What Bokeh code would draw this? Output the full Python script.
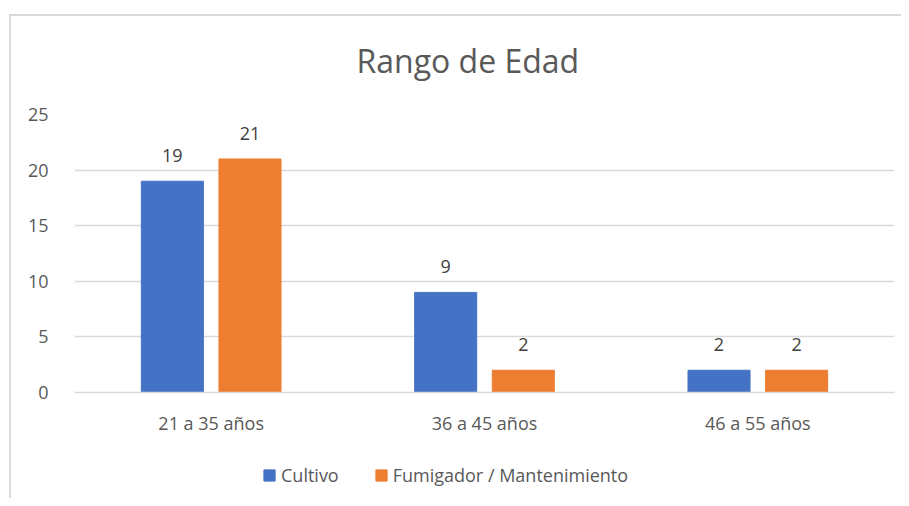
from bokeh.plotting import figure
from bokeh.layouts import column
from bokeh.models import (ColumnDataSource, FactorRange, Range1d, FixedTicker, LabelSet,
                          Legend, LegendItem, Title)
from bokeh.core.properties import value
from bokeh.transform import dodge
from bokeh.embed import file_html
from bokeh.resources import INLINE

categories = ["21 a 35 años", "36 a 45 años", "46 a 55 años"]
cultivo = [19, 9, 2]
fumigador = [21, 2, 2]
series_names = ["Cultivo", "Fumigador / Mantenimiento"]
y_ticks = [0, 5, 10, 15, 20, 25]

BLUE = "#4472C4"
ORANGE = "#ED7D31"
GRID = "#D9D9D9"
TXT = "#595959"
FONT = "Open Sans"

src = ColumnDataSource(dict(cat=categories, c=cultivo, f=fumigador,
                            cl=[str(v) for v in cultivo], fl=[str(v) for v in fumigador]))

p = figure(width=901, height=450, x_range=FactorRange(*categories, range_padding=0),
           y_range=Range1d(0, 25), output_backend="svg", toolbar_location=None,
           min_border_left=74, min_border_right=7, min_border_top=114, min_border_bottom=58)
p.outline_line_color = None
p.background_fill_color = "white"
p.border_fill_alpha = 0

r1 = p.vbar(x=dodge("cat", -0.142, range=p.x_range), top="c", width=0.227, source=src,
            fill_color=BLUE, line_color=BLUE)
r2 = p.vbar(x=dodge("cat", 0.142, range=p.x_range), top="f", width=0.227, source=src,
            fill_color=ORANGE, line_color=ORANGE)

for col, lab, off in (("c", "cl", -0.142), ("f", "fl", 0.142)):
    p.add_layout(LabelSet(x=dodge("cat", off, range=p.x_range), y=col, text=lab, source=src,
                          text_align="center", text_baseline="alphabetic", y_offset=19,
                          text_font=value(FONT), text_font_size="18px", text_color="#404040"))

p.title = Title(text="Rango de Edad", align="left", offset=282, text_font=FONT,
                text_font_size="32px", text_font_style="normal", text_color=TXT, standoff=65)

p.yaxis.ticker = FixedTicker(ticks=y_ticks)
p.ygrid.ticker = FixedTicker(ticks=y_ticks)
p.ygrid.grid_line_color = GRID
p.ygrid.grid_line_width = 1.5
p.xgrid.grid_line_color = None
p.yaxis.axis_line_color = None
p.yaxis.major_tick_line_color = None
p.yaxis.minor_tick_line_color = None
p.yaxis.major_label_standoff = 20
p.xaxis.axis_line_color = GRID
p.xaxis.axis_line_width = 1.5
p.xaxis.major_tick_line_color = None
p.xaxis.minor_tick_line_color = None
p.xaxis.major_label_standoff = 12
for ax in (p.xaxis, p.yaxis):
    ax.major_label_text_font = FONT
    ax.major_label_text_font_size = "18px"
    ax.major_label_text_color = TXT

# legend strip below the chart (its renderers are hidden; only the legend shows)
lf = figure(width=901, height=48, x_range=FactorRange(*categories, range_padding=0),
            y_range=Range1d(0, 25), output_backend="svg", toolbar_location=None,
            x_axis_location=None, y_axis_location=None,
            min_border_left=0, min_border_right=0, min_border_top=0, min_border_bottom=0)
lf.grid.visible = False
lf.outline_line_color = None
lf.background_fill_alpha = 0
lf.border_fill_alpha = 0
lr1 = lf.vbar(x="cat", top="c", width=0.2, source=src, fill_color=BLUE, line_color=BLUE,
              visible=False)
lr2 = lf.vbar(x="cat", top="f", width=0.2, source=src, fill_color=ORANGE, line_color=ORANGE,
              visible=False)
legend = Legend(items=[LegendItem(label=series_names[0], renderers=[lr1]),
                       LegendItem(label=series_names[1], renderers=[lr2])],
                orientation="horizontal", location=(188, 11),
                label_text_font=FONT, label_text_font_size="18px", label_text_color=TXT,
                glyph_width=14, glyph_height=14, spacing=35, label_standoff=5,
                border_line_color=None, background_fill_alpha=0, padding=0, margin=0,
                inactive_fill_alpha=0)
lf.add_layout(legend, "center")

layout = column(p, lf, spacing=0)
layout.styles = {
    "background-color": "white",
    "background-image": "linear-gradient(#D9D9D9,#D9D9D9), linear-gradient(#D9D9D9,#D9D9D9)",
    "background-position": "9px 14px, 9px 14px",
    "background-size": "2px 100%, 100% 2px",
    "background-repeat": "no-repeat",
}

open("out.html", "w").write(file_html(layout, INLINE))
